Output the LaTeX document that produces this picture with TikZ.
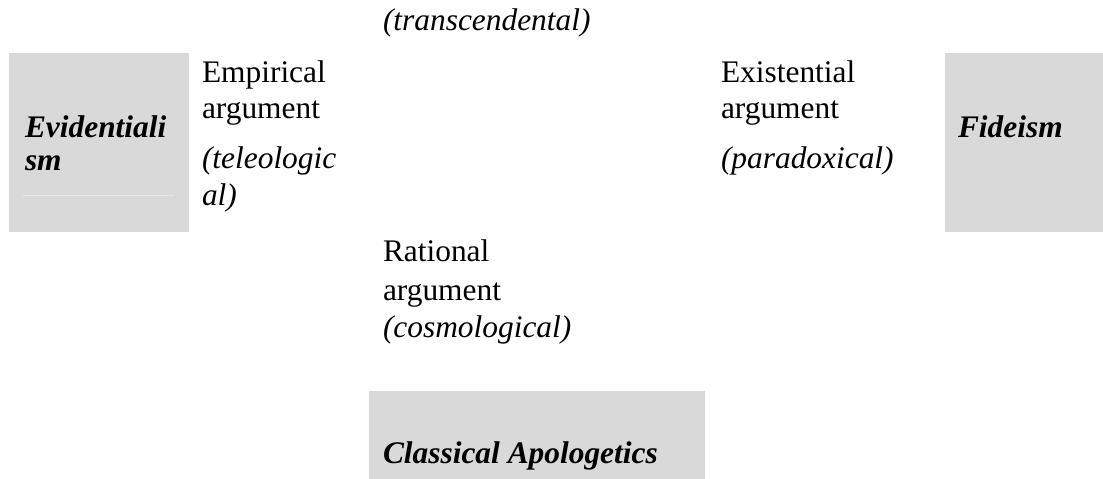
\documentclass[tikz,border=0pt]{standalone}
\usepackage{fontspec}
\setmainfont{Liberation Serif}
\definecolor{boxgray}{HTML}{D9D9D9}
\definecolor{faintline}{HTML}{E8E8E8}
\begin{document}
\begin{tikzpicture}[x=1pt,y=-1pt,
  graybox/.style={fill=boxgray,draw=none,inner sep=0pt,outer sep=0pt},
  lbl/.style={anchor=base west,inner sep=0pt,outer sep=0pt,font=\fontsize{31.4}{36}\selectfont},
  itl/.style={lbl,font=\fontsize{31.4}{36}\selectfont\itshape},
  bit/.style={lbl,font=\fontsize{31.4}{36}\selectfont\bfseries\itshape}]
\useasboundingbox (0,0) rectangle (1103,479);
% boxes
\node[graybox,minimum width=180pt,minimum height=179pt,anchor=north west] (evbox) at (9,53) {};
\node[graybox,minimum width=158pt,minimum height=179pt,anchor=north west] (fibox) at (945,53) {};
\node[graybox,minimum width=336pt,minimum height=88pt,anchor=north west] (cabox) at (369,391) {};
\coordinate (fl1) at (23,195);
\coordinate (fl2) at (174,195);
\draw[faintline,line width=0.8pt] (fl1) -- (fl2);
% top
\node[itl] (trans) at (383,30) {(transcendental)};
% left box text
\node[bit] (ev1) at (25,137) {Evidentiali};
\node[bit] (ev2) at (25,170) {sm};
% empirical
\node[lbl] (em1) at (202,82) {Empirical};
\node[lbl] (em2) at (202,118) {argument};
\node[itl] (em3) at (202,168) {(teleologic};
\node[itl] (em4) at (202,205) {al)};
% existential
\node[lbl] (ex1) at (721,82) {Existential};
\node[lbl] (ex2) at (721,118) {argument};
\node[itl] (ex3) at (721,168) {(paradoxical)};
% fideism
\node[bit] (fi) at (958,137) {Fideism};
% rational
\node[lbl] (ra1) at (383,261) {Rational};
\node[lbl] (ra2) at (383,300) {argument};
\node[itl] (ra3) at (383,337) {(cosmological)};
\node[bit] (ca) at (383,463) {Classical Apologetics};
\end{tikzpicture}
\end{document}
